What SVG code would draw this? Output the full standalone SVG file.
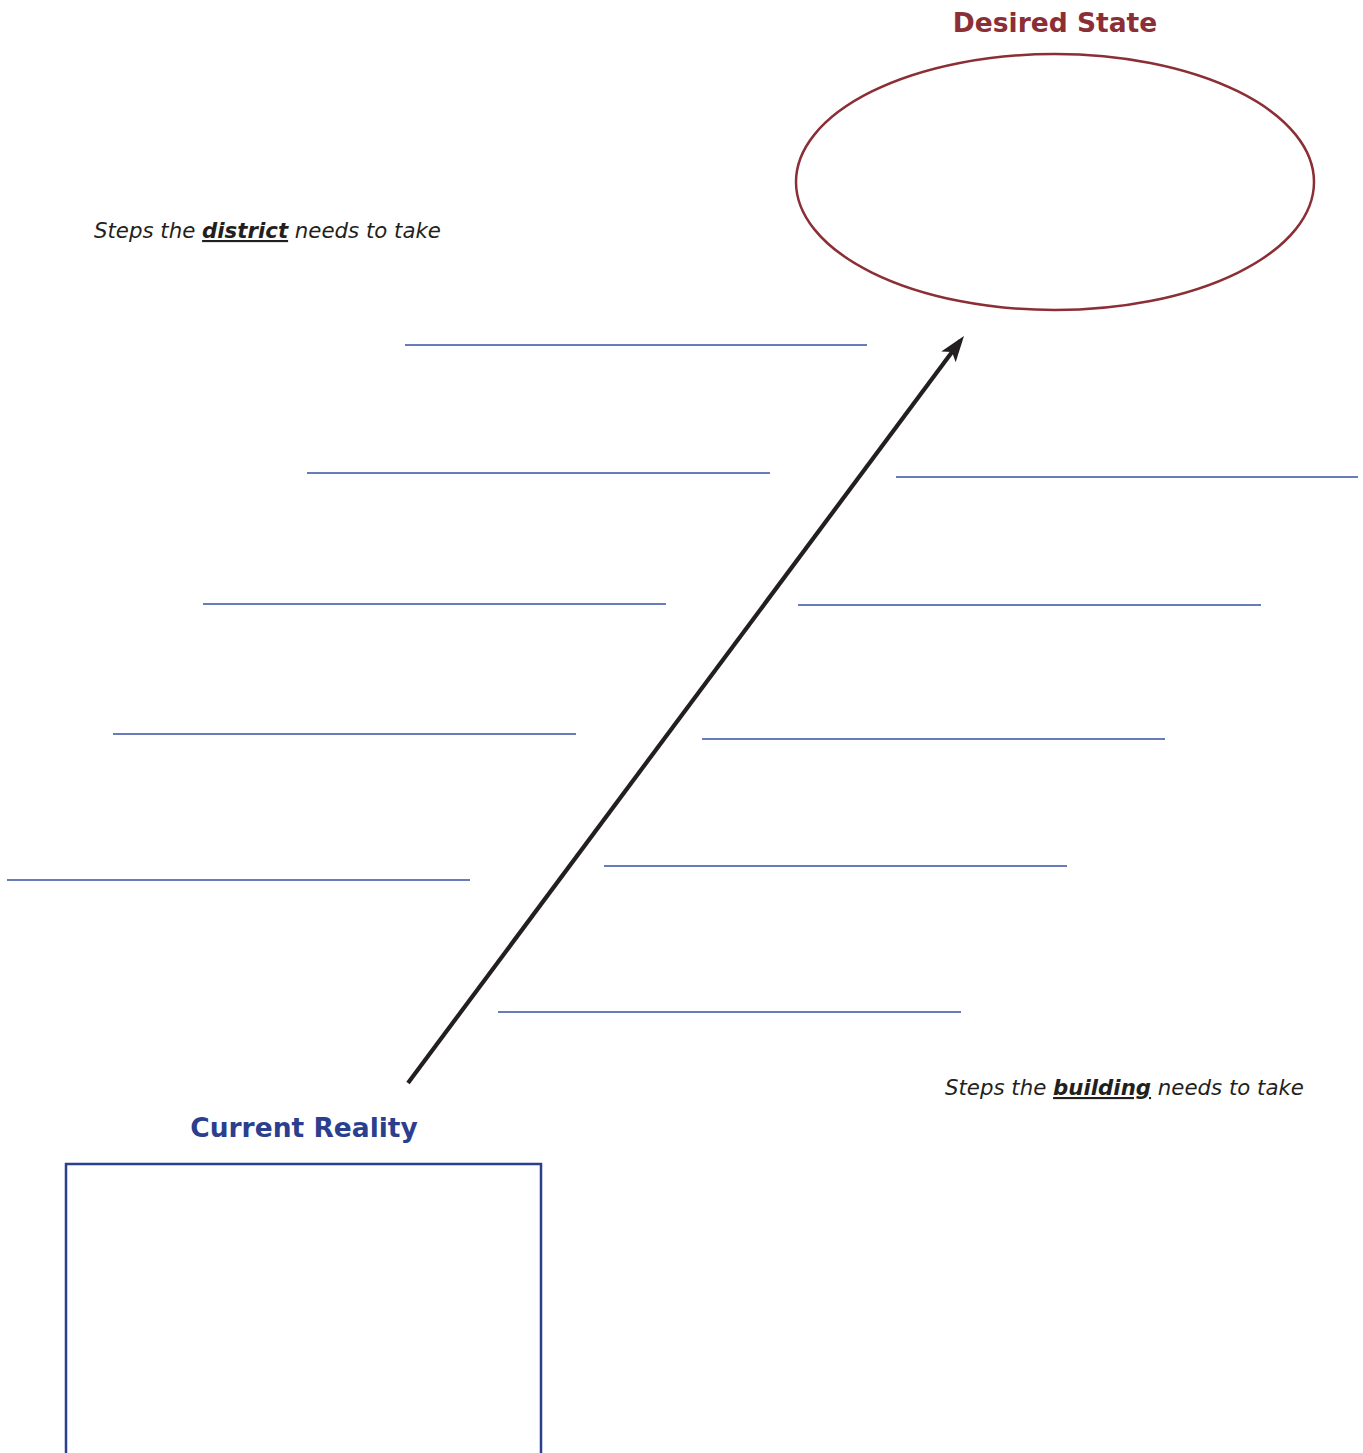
<svg xmlns="http://www.w3.org/2000/svg" width="1363" height="1453" viewBox="0 0 1363 1453">
<style>
.title{font-family:"DejaVu Sans",Verdana,sans-serif;font-weight:bold;font-size:26.5px;text-anchor:middle}
.note{font-family:"DejaVu Sans",Verdana,sans-serif;font-style:italic;font-size:21.3px;fill:#231f20}
.line{stroke:#3450a0;stroke-width:1.3;fill:none}
</style>
<defs>
<marker id="ah" markerWidth="28" markerHeight="20" refX="20" refY="9" orient="auto" markerUnits="userSpaceOnUse">
<path d="M0,0 L26,9 L0,18 L6,9 Z" fill="#231f20"/>
</marker>
</defs>
<rect width="1363" height="1453" fill="#fff"/>
<g id="desired-state">
<text class="title" x="1055" y="32" fill="#8b2e35">Desired State</text>
<ellipse cx="1055" cy="182" rx="259" ry="128" fill="none" stroke="#8b2e35" stroke-width="2.5"/>
</g>
<g id="current-reality">
<text class="title" x="304" y="1137" fill="#2b3f8f">Current Reality</text>
<path d="M66,1460 V1164 H541 V1460" fill="none" stroke="#2b3f8f" stroke-width="2.5"/>
</g>
<g id="district-note">
<text class="note" x="94" y="238">Steps the <tspan font-weight="bold" text-decoration="underline">district</tspan> needs to take</text>
</g>
<g id="building-note">
<text class="note" x="945" y="1095">Steps the <tspan font-weight="bold" text-decoration="underline">building</tspan> needs to take</text>
</g>
<g id="connectors">
<line x1="408" y1="1083" x2="960.4" y2="340.8" stroke="#231f20" stroke-width="4.2" marker-end="url(#ah)"/>
<line class="line" x1="405" y1="345" x2="867" y2="345"/>
<line class="line" x1="307" y1="473" x2="770" y2="473"/>
<line class="line" x1="896" y1="477" x2="1358" y2="477"/>
<line class="line" x1="203" y1="604" x2="666" y2="604"/>
<line class="line" x1="798" y1="605" x2="1261" y2="605"/>
<line class="line" x1="113" y1="734" x2="576" y2="734"/>
<line class="line" x1="702" y1="739" x2="1165" y2="739"/>
<line class="line" x1="7" y1="880" x2="470" y2="880"/>
<line class="line" x1="604" y1="866" x2="1067" y2="866"/>
<line class="line" x1="498" y1="1012" x2="961" y2="1012"/>
</g>
</svg>
